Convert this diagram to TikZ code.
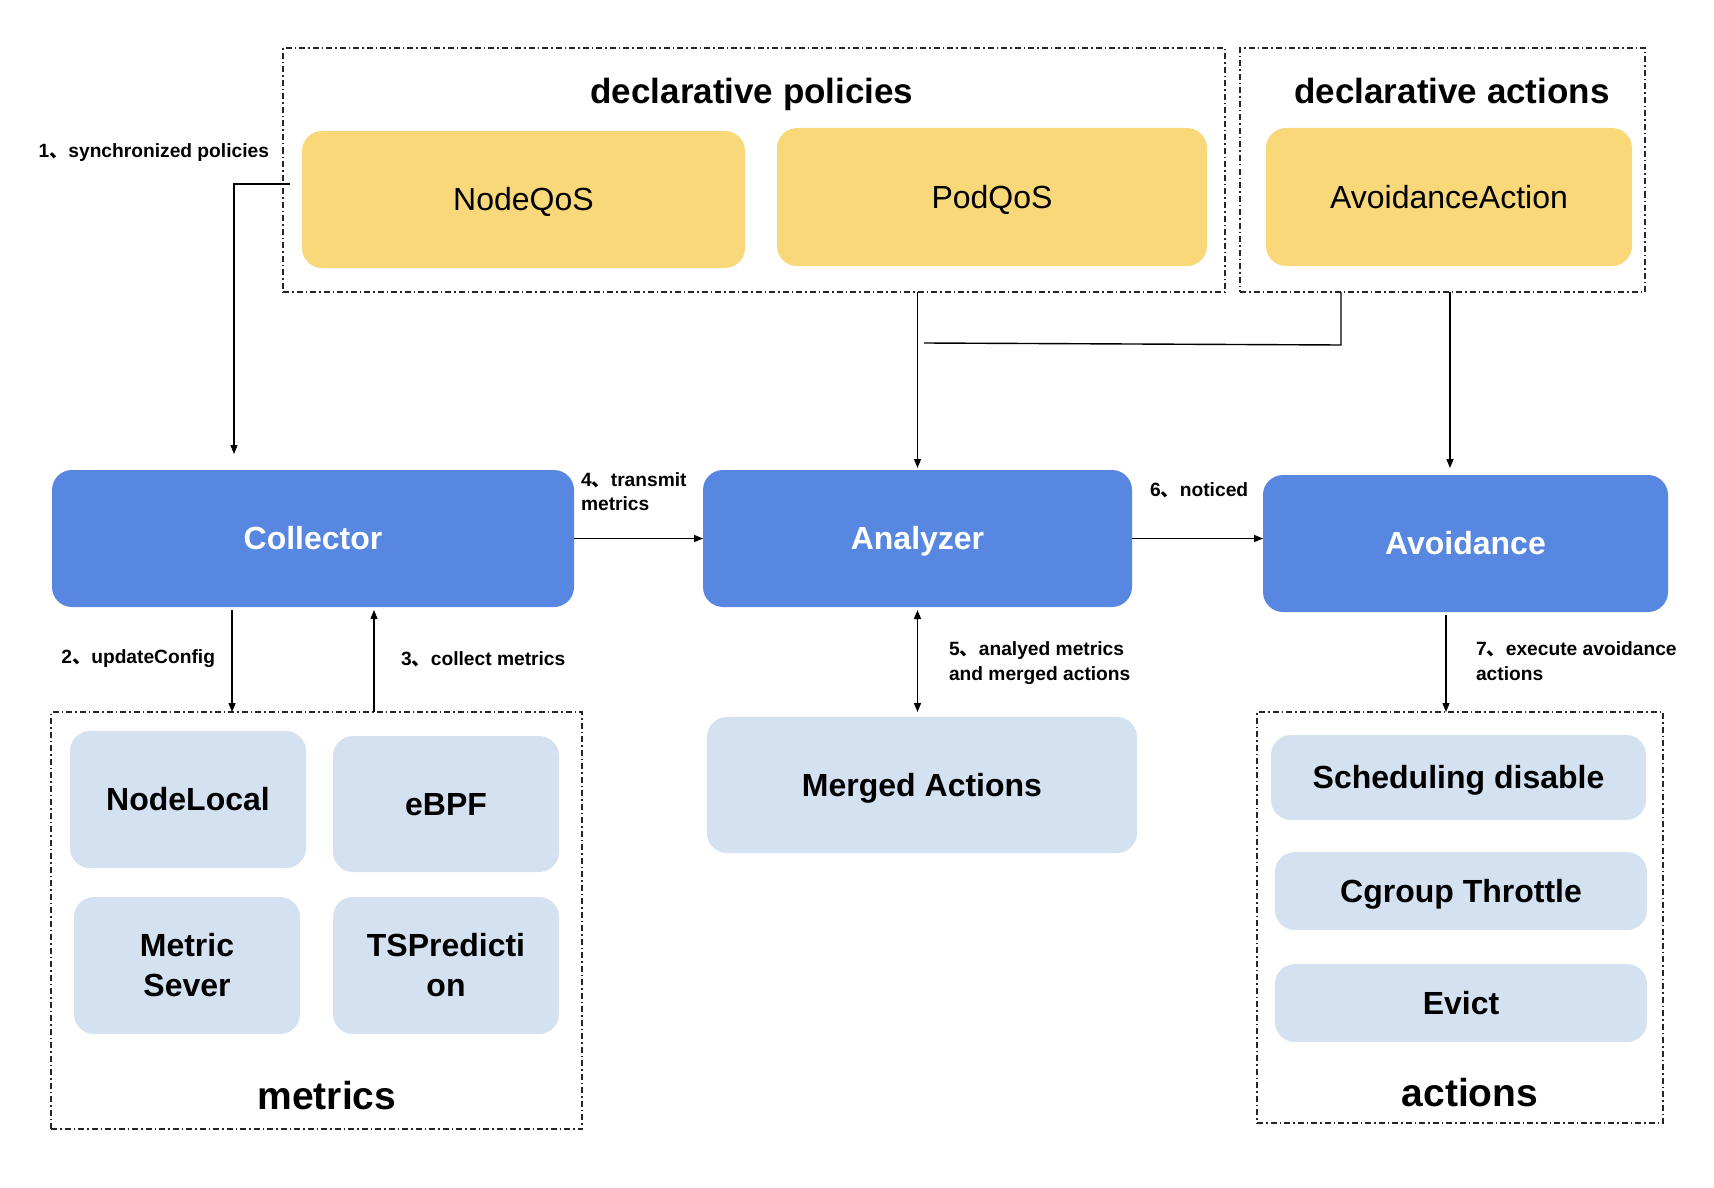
\documentclass[tikz,border=0pt]{standalone}
\usepackage{fontspec}
\setmainfont{Liberation Sans}
\newfontfamily\cjk{Noto Sans CJK SC}
\usetikzlibrary{arrows.meta}
\definecolor{qyellow}{RGB}{248,216,120}
\definecolor{qblue}{RGB}{87,135,225}
\definecolor{qlight}{RGB}{212,225,241}
\newcommand{\dun}{{\cjk 、}}
\begin{document}
\begin{tikzpicture}[x=1pt,y=-1pt,
  every node/.style={inner sep=0pt, outer sep=0pt},
  capc/.style={text height=22pt, text depth=0pt},
  ybox/.style={fill=qyellow, rounded corners=20pt, capc, font=\fontsize{32}{38}\selectfont},
  bbox/.style={fill=qblue, rounded corners=20pt, capc, text=white, font=\bfseries\fontsize{32}{38}\selectfont},
  lbox/.style={fill=qlight, rounded corners=20pt, font=\bfseries\fontsize{32}{40}\selectfont, align=center},
  group/.style={draw=black!85, line width=1.2pt, dash pattern=on 6pt off 3pt on 1.5pt off 3pt},
  title/.style={text height=24pt, text depth=0pt, font=\bfseries\fontsize{35}{40}\selectfont},
  lbl/.style={font=\bfseries\fontsize{19.2}{24.5}\selectfont, align=left},
  conn/.style={line width=1.4pt, draw=black},
  arr/.style={conn, -{Triangle[length=9pt,width=7pt]}},
  darr/.style={conn, {Triangle[length=9pt,width=7pt]}-{Triangle[length=9pt,width=7pt]}},
]
\useasboundingbox (0,0) rectangle (1714,1188);

% group frames
\node[group, minimum width=942pt, minimum height=244pt] (pol) at (754,170) {};
\node[group, minimum width=405pt, minimum height=244pt] (act) at (1442.5,170) {};
\node[group, minimum width=531pt, minimum height=417pt] (metr) at (316.5,920.5) {};
\node[group, minimum width=406pt, minimum height=411pt] (acts) at (1460,917.5) {};

% titles
\node[title] (poltitle) at (752,92) {declarative policies};
\node[title] (acttitle) at (1452,92) {declarative actions};
\node[font=\bfseries\fontsize{39}{44}\selectfont] (metrtitle) at (327,1096) {metrics};
\node[font=\bfseries\fontsize{39}{44}\selectfont] (actstitle) at (1470,1093) {actions};

% yellow boxes
\node[ybox, minimum width=443pt, minimum height=137pt] (nodeqos) at (523.5,199.5) {NodeQoS};
\node[ybox, minimum width=430pt, minimum height=138pt] (podqos) at (992,197) {PodQoS};
\node[ybox, minimum width=366pt, minimum height=138pt] (avact) at (1449,197) {AvoidanceAction};

% blue boxes
\node[bbox, minimum width=522pt, minimum height=137pt] (collector) at (313,538.5) {Collector};
\node[bbox, minimum width=429pt, minimum height=137pt] (analyzer) at (917.5,538.5) {Analyzer};
\node[bbox, minimum width=405pt, minimum height=137pt] (avoid) at (1465.5,543.5) {Avoidance};

% light boxes
\node[lbox, capc, minimum width=236pt, minimum height=137pt] (nodelocal) at (188,799.5) {NodeLocal};
\node[lbox, capc, minimum width=226pt, minimum height=136pt] (ebpf) at (446,804) {eBPF};
\node[lbox, minimum width=226pt, minimum height=137pt] (msever) at (187,965.5) {Metric\\Sever};
\node[lbox, minimum width=226pt, minimum height=137pt] (tspred) at (446,965.5) {TSPredicti\\on};
\node[lbox, capc, minimum width=430pt, minimum height=136pt] (merged) at (922,785) {Merged Actions};
\node[lbox, capc, minimum width=375pt, minimum height=85pt] (sched) at (1458.5,777.5) {Scheduling disable};
\node[lbox, capc, minimum width=372pt, minimum height=78pt] (cgroup) at (1461,891) {Cgroup Throttle};
\node[lbox, capc, minimum width=372pt, minimum height=78pt] (evict) at (1461,1003) {Evict};

% helper coordinates
\coordinate (syncstart) at (290,184);
\coordinate (synccorner) at (234,184);
\coordinate (joinL) at (924,343);
\coordinate (joinR) at (1341,345);
\coordinate (avx) at (1450,0);
\coordinate (c2) at (232,0);
\coordinate (c3) at (374,0);
\coordinate (c7) at (1446,0);

% connectors
\draw[arr, shorten >=16pt] (syncstart) -- (synccorner) -- (synccorner |- collector.north);
\draw[arr, shorten >=2pt] (pol.south -| analyzer.north) -- (analyzer.north);
\draw[conn] (joinL) -- (joinR) -- (joinR |- act.south);
\draw[arr, shorten >=7pt] (act.south -| avx) -- (avoid.north -| avx);
\draw[arr] (collector.east) -- (analyzer.west);
\draw[arr] (analyzer.east) -- (analyzer.east -| avoid.west);
\draw[arr, shorten <=3pt] (collector.south -| c2) -- (metr.north -| c2);
\draw[arr, shorten >=3pt] (metr.north -| c3) -- (collector.south -| c3);
\draw[darr, shorten >=5pt, shorten <=3pt] (analyzer.south) -- (merged.north -| analyzer.south);
\draw[arr, shorten <=3pt] (avoid.south -| c7) -- (acts.north -| c7);

% labels
\node[lbl, anchor=east] (l1) at (269,153) {1\dun synchronized policies};
\node[lbl, anchor=west] (l4) at (581,491.5) {4\dun transmit\\metrics};
\node[lbl, anchor=west] (l6) at (1150,490) {6\dun noticed};
\node[lbl, anchor=east] (l2) at (215,659) {2\dun updateConfig};
\node[lbl, anchor=west] (l3) at (401,659) {3\dun collect metrics};
\node[lbl, anchor=west] (l5) at (949,663) {5\dun analyed metrics\\and merged actions};
\node[lbl, anchor=west] (l7) at (1476,661) {7\dun execute avoidance\\actions};
\end{tikzpicture}
\end{document}
